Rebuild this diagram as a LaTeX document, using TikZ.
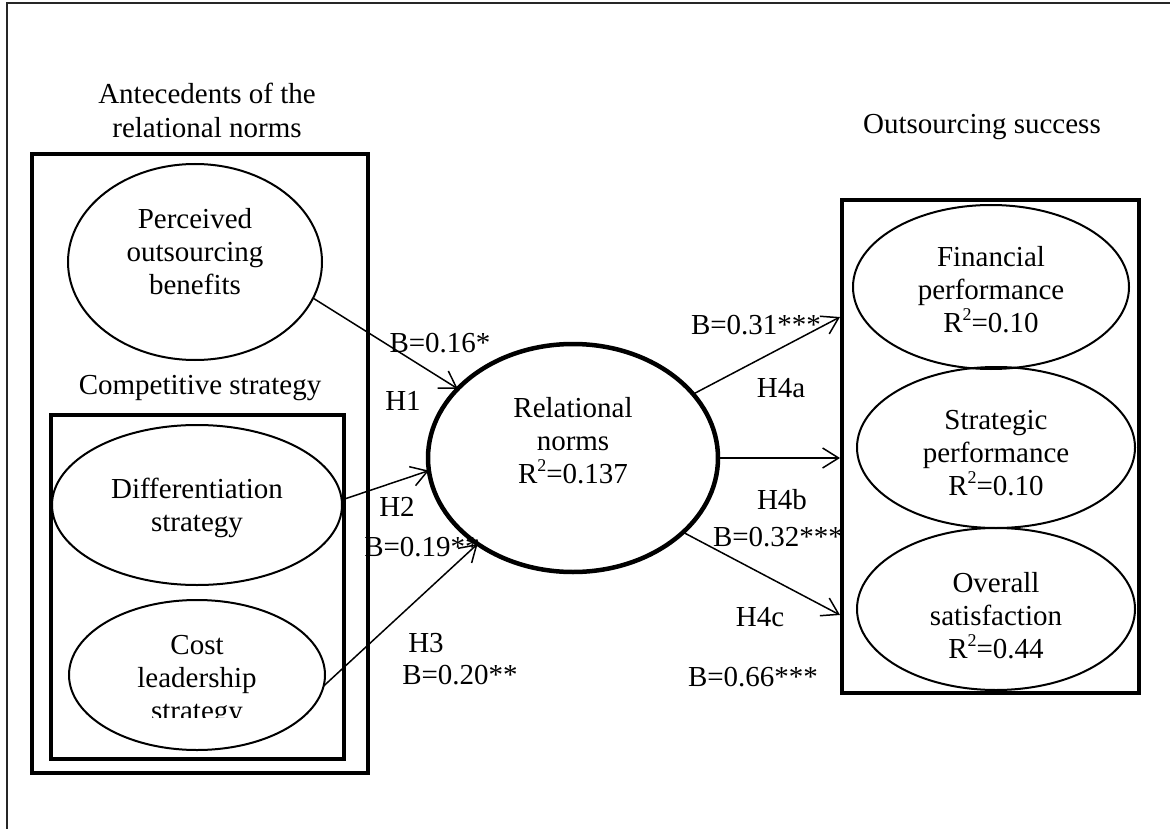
\documentclass[tikz,border=0pt]{standalone}
\usepackage{fontspec}
\setmainfont{Liberation Serif}
\usetikzlibrary{arrows.meta,shapes.geometric}
\newcommand{\sqsup}{\raisebox{0.42em}{\fontsize{18}{18}\selectfont 2}}
\begin{document}
\begin{tikzpicture}[x=1pt,y=-1pt,
  every node/.style={font=\fontsize{29}{33}\selectfont, inner sep=0pt, outer sep=0pt},
  txt/.style={align=center},
  title/.style={align=center, font=\fontsize{29}{34}\selectfont},
  oval/.style={draw, ellipse, line width=2pt},
  bigoval/.style={draw, ellipse, line width=4.5pt},
  grp/.style={draw, rectangle, line width=4pt, outer sep=2pt},
  conn/.style={line width=1.5pt, -{Straight Barb[length=16pt,width=20pt]}},
  frame/.style={line width=1.5pt, draw=black!85}
]
\useasboundingbox (0,0) rectangle (1170,829);
% outer frame (only top and left edges are visible)
\coordinate (fbl) at (7,829);
\coordinate (ftl) at (7,3);
\coordinate (ftr) at (1170,3);
\draw[frame] (fbl) -- (ftl) -- (ftr);

% group boxes
\node[grp, minimum width=336pt, minimum height=619pt] (ante) at (200,463.5) {};
\node[grp, minimum width=293pt, minimum height=344pt] (comp) at (197.5,587) {};
\node[grp, minimum width=297pt, minimum height=493pt] (ogrp) at (990.5,446.5) {};

% titles
\node[title] (anteT) at (207,110) {Antecedents of the\\relational norms};
\node[title] (compT) at (200,388) {Competitive strategy};
\node[title] (outT) at (982,127) {Outsourcing success};

% ellipses
\node[oval, minimum width=254pt, minimum height=196pt] (perc) at (195,262) {};
\node[oval, minimum width=290pt, minimum height=160pt] (diff) at (197,505) {};
\node[oval, minimum width=256pt, minimum height=150pt] (cost) at (197,675) {};
\node[bigoval, minimum width=290pt, minimum height=228pt] (rel) at (573,458) {};
\node[oval, minimum width=276pt, minimum height=164pt] (fin) at (991,287) {};
\node[oval, minimum width=278pt, minimum height=161pt] (strat) at (996,447.5) {};
\node[oval, minimum width=278pt, minimum height=162pt] (over) at (996,609) {};

% ellipse texts
\node[txt] (percT) at (195,252) {Perceived\\outsourcing\\benefits};
\node[txt] (diffT) at (197,508) {Differentiation\\strategy};
\begin{scope}
  \clip (60,600) rectangle (335,717);
  \node[txt] (costT) at (197,681) {Cost\\leadership\\strategy};
\end{scope}
\node[txt] (relT) at (573,441) {Relational\\norms\\R\sqsup=0.137};
\node[txt] (finT) at (991,290) {Financial\\performance\\R\sqsup=0.10};
\node[txt] (stratT) at (996,453) {Strategic\\performance\\R\sqsup=0.10};
\node[txt] (overT) at (996,616) {Overall\\satisfaction\\R\sqsup=0.44};

% arrow targets on the outcome box
\coordinate (t4a) at (840,317);
\coordinate (t4c) at (840,615);

% connectors
\draw[conn] (perc.-17.4) -- (rel.149.3);
\draw[conn] (diff.2) -- (rel.-175);
\draw[conn] (cost.-5) -- (rel.-138.3);
\draw[conn] (rel.28.2) -- (t4a);
\draw[conn] (rel.east) -- (rel.east -| ogrp.west);
\draw[conn] (rel.-34) -- (t4c);

% labels
\node (lB1) at (440,343) {B=0.16*};
\node (lH1) at (403,401) {H1};
\node (lH2) at (397,507) {H2};
\node (lB2) at (422,547) {B=0.19**};
\node (lH3) at (426,643) {H3};
\node (lB3) at (460,675) {B=0.20**};
\node (lB4a) at (756,325) {B=0.31***};
\node (lH4a) at (781,388) {H4a};
\node (lH4b) at (782,500) {H4b};
\node (lB4b) at (778,537) {B=0.32***};
\node (lH4c) at (760,617) {H4c};
\node (lB4c) at (753,677) {B=0.66***};
\end{tikzpicture}
\end{document}
